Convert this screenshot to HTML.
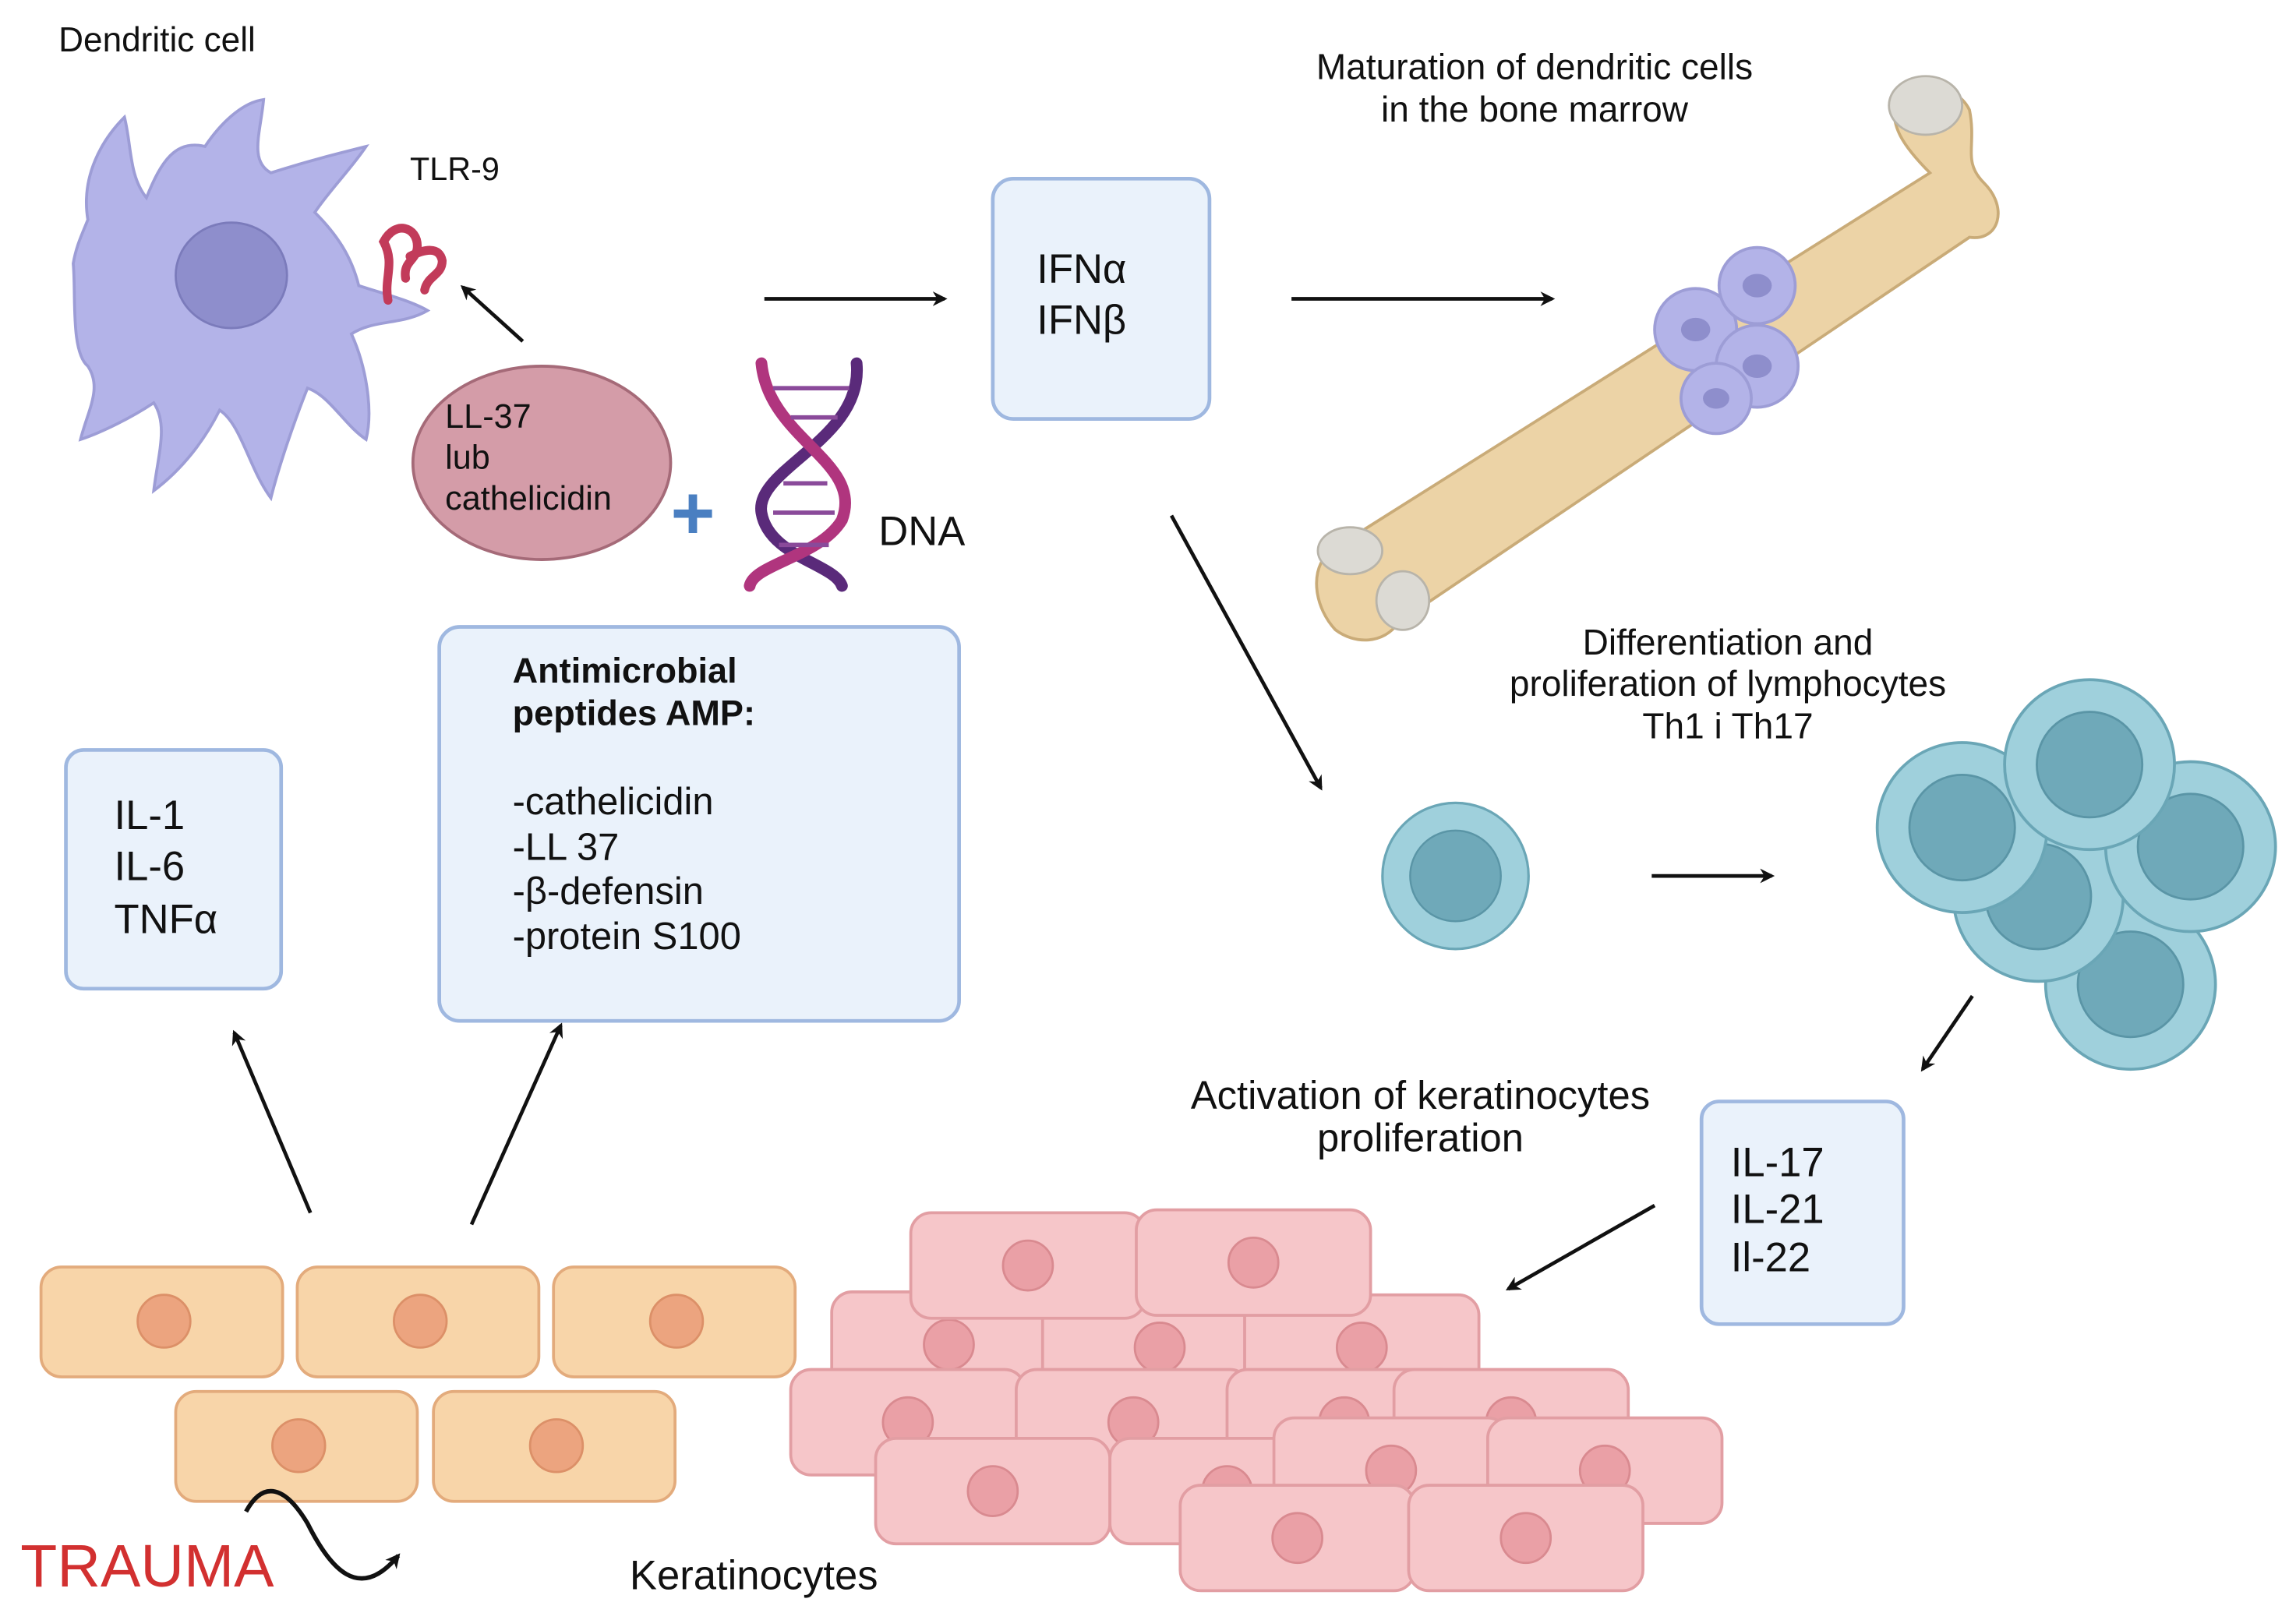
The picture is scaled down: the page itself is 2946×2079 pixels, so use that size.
<!DOCTYPE html>
<html><head><meta charset="utf-8"><style>
html,body{margin:0;padding:0;background:#fff;}
svg{display:block;}
text{font-family:"Liberation Sans",sans-serif;fill:#111;}
</style></head><body>
<svg width="2946" height="2079" viewBox="0 0 1568 1106" preserveAspectRatio="none" xmlns="http://www.w3.org/2000/svg">
<defs>
<marker id="ah" markerWidth="10" markerHeight="10" refX="8" refY="5" orient="auto" markerUnits="userSpaceOnUse"><path d="M0,0 L10,5 L0,10 L3,5 Z" fill="#111"/></marker>
<g id="kc"><rect x="0" y="0" width="160" height="72" rx="14" fill="#f6c6c9" stroke="#e29ea3" stroke-width="2"/><circle cx="80" cy="36" r="17" fill="#eaa0a6" stroke="#d98a90" stroke-width="1.5"/></g>
<g id="bc"><rect x="0" y="0" width="165" height="75" rx="14" fill="#f8d5a9" stroke="#e3ab7c" stroke-width="2"/><circle cx="84" cy="37" r="18" fill="#eca47f" stroke="#dc9068" stroke-width="1.5"/></g>
<g id="ly"><circle r="58" fill="#9fd0dc" stroke="#6aa6b6" stroke-width="2"/><circle r="36" fill="#6fa9b9" stroke="#5a95a6" stroke-width="1.5"/></g>
</defs>

<text x="40" y="35" font-size="23.5">Dendritic cell</text>
<path d="M60,150 C55,120 70,95 85,80 C90,100 88,120 100,135 C110,110 120,95 140,100 C150,85 165,70 180,68 C178,90 170,110 185,118 C210,110 230,105 250,100 C240,115 225,130 215,145 C230,160 240,175 245,195 C260,200 280,205 292,212 C275,222 255,218 240,228 C250,250 255,280 250,300 C235,290 225,270 210,265 C200,290 190,320 185,340 C170,320 165,290 150,280 C140,300 125,320 105,335 C108,310 115,290 105,275 C90,285 70,295 55,300 C60,280 70,265 60,250 C48,240 52,200 50,180 C52,168 56,160 60,150 Z" fill="#b3b3e8" stroke="#9d9dd6" stroke-width="2"/>
<ellipse cx="158" cy="188" rx="38" ry="36" fill="#8e8ecc" stroke="#7b7bbb" stroke-width="1.5"/>
<path d="M265,205 C262,190 270,180 262,165 C270,150 285,155 285,168 C285,178 275,178 277,190 M280,175 C290,170 300,168 302,178 C302,188 292,188 290,198" fill="none" stroke="#c23b5a" stroke-width="6" stroke-linecap="round"/>
<text x="280" y="123" font-size="22">TLR-9</text>
<line x1="357" y1="233" x2="316" y2="196" stroke="#111" stroke-width="2.5" marker-end="url(#ah)"/>

<ellipse cx="370" cy="316" rx="88" ry="66" fill="#d49ca8" stroke="#a56a78" stroke-width="2"/>
<text x="304" y="292" font-size="23">LL-37</text>
<text x="304" y="320" font-size="23">lub</text>
<text x="304" y="348" font-size="23">cathelicidin</text>
<text x="458" y="368" font-size="52" style="fill:#4a7fc1;font-weight:bold">+</text>

<g fill="none" stroke-width="8" stroke-linecap="round">
<path d="M585,248 C590,300 515,320 520,350 C525,380 570,385 575,400" stroke="#5a2a7a"/>
<path d="M520,248 C525,300 590,315 575,355 C560,380 515,385 512,400" stroke="#b0357e"/>
</g>
<g stroke="#8a4a9a" stroke-width="3">
<line x1="528" y1="265" x2="580" y2="265"/><line x1="540" y1="285" x2="572" y2="285"/>
<line x1="535" y1="330" x2="565" y2="330"/><line x1="528" y1="350" x2="570" y2="350"/>
<line x1="532" y1="372" x2="566" y2="372"/>
</g>
<text x="600" y="372" font-size="28">DNA</text>

<line x1="522" y1="204" x2="645" y2="204" stroke="#111" stroke-width="2.5" marker-end="url(#ah)"/>
<rect x="678" y="122" width="148" height="164" rx="14" fill="#eaf2fb" stroke="#9fb8e0" stroke-width="2.5"/>
<text x="708" y="193" font-size="28">IFNα</text>
<text x="708" y="228" font-size="28">IFNβ</text>
<line x1="882" y1="204" x2="1060" y2="204" stroke="#111" stroke-width="2.5" marker-end="url(#ah)"/>

<text x="1048" y="54" font-size="24.5" text-anchor="middle">Maturation of dendritic cells</text>
<text x="1048" y="83" font-size="24.5" text-anchor="middle">in the bone marrow</text>

<path d="M915,372 L1318,118 C1300,100 1290,85 1295,70 C1305,55 1335,55 1345,75 C1350,100 1340,110 1355,125 C1372,142 1365,165 1345,162 L955,425 C945,440 925,440 912,430 C898,415 895,392 905,380 C909,375 912,373 915,372 Z" fill="#ecd3a6" stroke="#c9ab78" stroke-width="2"/>
<ellipse cx="1315" cy="72" rx="25" ry="20" fill="#dcdad4" stroke="#b8b4aa" stroke-width="1.5"/>
<ellipse cx="922" cy="376" rx="22" ry="16" fill="#dcdad4" stroke="#b8b4aa" stroke-width="1.5"/>
<ellipse cx="958" cy="410" rx="18" ry="20" fill="#dcdad4" stroke="#b8b4aa" stroke-width="1.5"/>
<g fill="#b3b3e8" stroke="#9d9dd6" stroke-width="2">
<circle cx="1158" cy="225" r="28"/><circle cx="1200" cy="195" r="26"/><circle cx="1200" cy="250" r="28"/><circle cx="1172" cy="272" r="24"/>
</g>
<g fill="#8e8ecc"><ellipse cx="1158" cy="225" rx="10" ry="8"/><ellipse cx="1200" cy="195" rx="10" ry="8"/><ellipse cx="1200" cy="250" rx="10" ry="8"/><ellipse cx="1172" cy="272" rx="9" ry="7"/></g>

<line x1="800" y1="352" x2="902" y2="538" stroke="#111" stroke-width="2.5" marker-end="url(#ah)"/>
<text x="1180" y="447" font-size="24.5" text-anchor="middle">Differentiation and</text>
<text x="1180" y="475" font-size="24.5" text-anchor="middle">proliferation of lymphocytes</text>
<text x="1180" y="504" font-size="24.5" text-anchor="middle">Th1 i Th17</text>

<g transform="translate(994,598) scale(0.86)"><use href="#ly"/></g>
<line x1="1128" y1="598" x2="1210" y2="598" stroke="#111" stroke-width="2.5" marker-end="url(#ah)"/>
<use href="#ly" x="1455" y="672"/>
<use href="#ly" x="1392" y="612"/>
<use href="#ly" x="1496" y="578"/>
<use href="#ly" x="1340" y="565"/>
<use href="#ly" x="1427" y="522"/>

<line x1="1347" y1="680" x2="1313" y2="730" stroke="#111" stroke-width="2.5" marker-end="url(#ah)"/>
<rect x="1162" y="752" width="138" height="152" rx="12" fill="#eaf2fb" stroke="#9fb8e0" stroke-width="2.5"/>
<text x="1182" y="803" font-size="28">IL-17</text>
<text x="1182" y="835" font-size="28">IL-21</text>
<text x="1182" y="868" font-size="28">Il-22</text>
<line x1="1130" y1="823" x2="1030" y2="880" stroke="#111" stroke-width="2.5" marker-end="url(#ah)"/>

<text x="970" y="757" font-size="27" text-anchor="middle">Activation of keratinocytes</text>
<text x="970" y="786" font-size="27" text-anchor="middle">proliferation</text>

<use href="#kc" x="568" y="882"/><use href="#kc" x="712" y="884"/><use href="#kc" x="850" y="884"/>
<use href="#kc" x="622" y="828"/><use href="#kc" x="776" y="826"/>
<use href="#kc" x="540" y="935"/><use href="#kc" x="694" y="935"/><use href="#kc" x="838" y="935"/><use href="#kc" x="952" y="935"/>
<use href="#kc" x="598" y="982"/><use href="#kc" x="758" y="982"/><use href="#kc" x="870" y="968"/><use href="#kc" x="1016" y="968"/>
<use href="#kc" x="806" y="1014"/><use href="#kc" x="962" y="1014"/>

<rect x="45" y="512" width="147" height="163" rx="12" fill="#eaf2fb" stroke="#9fb8e0" stroke-width="2.5"/>
<text x="78" y="566" font-size="28">IL-1</text>
<text x="78" y="601" font-size="28">IL-6</text>
<text x="78" y="637" font-size="28">TNFα</text>

<rect x="300" y="428" width="355" height="269" rx="14" fill="#eaf2fb" stroke="#9fb8e0" stroke-width="2.5"/>
<text x="350" y="466" font-size="24" font-weight="bold">Antimicrobial</text>
<text x="350" y="495" font-size="24" font-weight="bold">peptides AMP:</text>
<text x="350" y="556" font-size="26">-cathelicidin</text>
<text x="350" y="587" font-size="26">-LL 37</text>
<text x="350" y="617" font-size="26">-β-defensin</text>
<text x="350" y="648" font-size="26">-protein S100</text>

<line x1="212" y1="828" x2="160" y2="705" stroke="#111" stroke-width="2.5" marker-end="url(#ah)"/>
<line x1="322" y1="836" x2="383" y2="700" stroke="#111" stroke-width="2.5" marker-end="url(#ah)"/>

<use href="#bc" x="28" y="865"/><use href="#bc" x="203" y="865"/><use href="#bc" x="378" y="865"/>
<use href="#bc" x="120" y="950"/><use href="#bc" x="296" y="950"/>

<text x="14" y="1083" font-size="41" style="fill:#d23030">TRAUMA</text>
<path d="M168,1032 C180,1010 195,1015 210,1040 C225,1070 245,1095 272,1062" fill="none" stroke="#111" stroke-width="3" marker-end="url(#ah)"/>
<text x="430" y="1085" font-size="28">Keratinocytes</text>
</svg>
</body></html>
